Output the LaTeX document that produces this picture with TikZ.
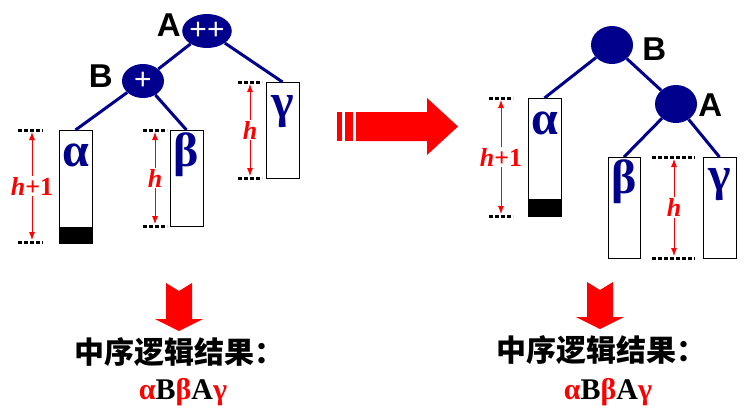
\documentclass[tikz,border=0pt]{standalone}
\usepackage{fontspec}
\setmainfont{Liberation Serif}
\newfontfamily\cjk{Noto Sans CJK SC}
\newfontfamily\labfont{Liberation Sans}
\usetikzlibrary{shapes.geometric,arrows.meta}
\definecolor{navy}{RGB}{0,0,140}
\tikzset{
    treenode/.style={ellipse, fill=navy, minimum width=42pt, minimum height=34pt, inner sep=0pt,
        text=white, font=\labfont\fontsize{30}{30}\selectfont},
    nodename/.style={inner sep=0pt, font=\labfont\bfseries\fontsize{33}{33}\selectfont},
    edge/.style={navy, line width=3pt},
    leafbox/.style={draw=black, fill=white, line width=0.9pt, minimum width=33pt, inner sep=0pt, anchor=north},
    greek/.style={text=navy, inner sep=0pt, font=\bfseries\fontsize{48}{48}\selectfont},
    dots/.style={line width=3pt, dash pattern=on 4pt off 2pt},
    dimarrow/.style={red, line width=0.8pt, {Latex[length=8pt,width=6pt]}-{Latex[length=8pt,width=6pt]},
        shorten <=2pt, shorten >=2pt},
    dimlabel/.style={fill=white, text=red, inner sep=1pt, font=\bfseries\fontsize{26}{26}\selectfont},
}
\begin{document}
\begin{tikzpicture}[x=1pt, y=-1pt]
    \useasboundingbox (0,0) rectangle (745,416);
    % left tree, before rotation
    \node[treenode] (A1) at (207,31) {++};
    \node[treenode] (B1) at (143,81) {+};
    \node[nodename, anchor=east] (A1n) at ([xshift=-1pt,yshift=6pt]A1.west) {A};
    \node[nodename, anchor=east] (B1n) at ([xshift=-9pt,yshift=5pt]B1.west) {B};
    \node[leafbox, minimum height=113pt] (al1) at (75.5,130) {};
    \node[leafbox, minimum height=96pt] (be1) at (186.5,130) {};
    \node[leafbox, minimum height=96pt] (ga1) at (282.5,82) {};
    \fill ([yshift=17pt]al1.south west) rectangle (al1.south east);
    \node[greek] (al1t) at ([yshift=-25pt]al1.north) {α};
    \node[greek] (be1t) at ([yshift=-25pt]be1.north) {β};
    \node[greek] (ga1t) at ([yshift=-30pt]ga1.north) {γ};
    \draw[edge] (A1) -- (B1);
    \draw[edge] (A1) -- (ga1.north);
    \draw[edge] (B1) -- (al1.north);
    \draw[edge] (B1) -- (be1.north);

    % right tree, after rotation
    \node[treenode, minimum height=38pt] (B2) at (612,45) {};
    \node[treenode, minimum height=38pt] (A2) at (676,104) {};
    \node[nodename, anchor=west] (B2n) at ([xshift=9pt,yshift=-4pt]B2.east) {B};
    \node[nodename, anchor=west] (A2n) at ([xshift=1pt,yshift=-1pt]A2.east) {A};
    \node[leafbox, minimum height=118pt] (al2) at (544.5,98) {};
    \node[leafbox, minimum height=101pt, minimum width=32pt] (be2) at (624,157) {};
    \node[leafbox, minimum height=101pt] (ga2) at (719.5,157) {};
    \fill ([yshift=18pt]al2.south west) rectangle (al2.south east);
    \node[greek] (al2t) at ([yshift=-25pt]al2.north) {α};
    \node[greek] (be2t) at ([yshift=-25pt]be2.north) {β};
    \node[greek] (ga2t) at ([yshift=-28pt]ga2.north) {γ};
    \draw[edge] (B2) -- (al2.north);
    \draw[edge] (B2) -- (A2);
    \draw[edge] (A2) -- (be2.north);
    \draw[edge] (A2) -- (ga2.north);

    % heights
    \foreach \n/\x/\ya/\yb/\wl/\wr/\txt in {
        1/32/130/242/14/11/{{\itshape h}+1},
        2/155/130/226/12/12/{\itshape h},
        3/250/82/178/12/12/{\itshape h},
        4/501/98/216/12/12/{{\itshape h}+1},
        5/674/157/258/22/21/{\itshape h}} {
        \coordinate (d\n t) at (\x,\ya);
        \coordinate (d\n b) at (\x,\yb);
        \draw[dots] ([xshift=-\wl pt]d\n t) -- ([xshift=\wr pt]d\n t);
        \draw[dots] ([xshift=-\wl pt]d\n b) -- ([xshift=\wr pt]d\n b);
        \draw[dimarrow] (d\n t) -- node[dimlabel] (h\n) {\txt} (d\n b);
    }

    % big arrow between the trees
    \fill[red] (337,112) rectangle (342,141);
    \fill[red] (345,112) rectangle (353,141);
    \fill[red] (356,112) -- (427,112) -- (427,98) -- (458,126.5) -- (427,155) -- (427,141) -- (356,141) -- cycle;

    % down arrows
    \foreach \cx/\top/\tip in {179/283/331, 600/282/329}
        \fill[red] ({\cx-13},\top) -- (\cx,{\top+8}) -- ({\cx+13},\top) -- ({\cx+13},{\tip-12})
            -- ({\cx+24},{\tip-12}) -- (\cx,\tip) -- ({\cx-24},{\tip-12}) -- ({\cx-13},{\tip-12}) -- cycle;

    \node[font=\cjk\bfseries\fontsize{30}{30}\selectfont] (res1) at (179.5,352) {中序逻辑结果：};
    \node[font=\cjk\bfseries\fontsize{30}{30}\selectfont] (res2) at (601,350) {中序逻辑结果：};
    \node[font=\bfseries\fontsize{30}{30}\selectfont] (seq1) at (183,392)
        {\textcolor{red}{α}B\textcolor{red}{β}A\textcolor{red}{γ}};
    \node[font=\bfseries\fontsize{30}{30}\selectfont] (seq2) at (608,392)
        {\textcolor{red}{α}B\textcolor{red}{β}A\textcolor{red}{γ}};
\end{tikzpicture}
\end{document}
